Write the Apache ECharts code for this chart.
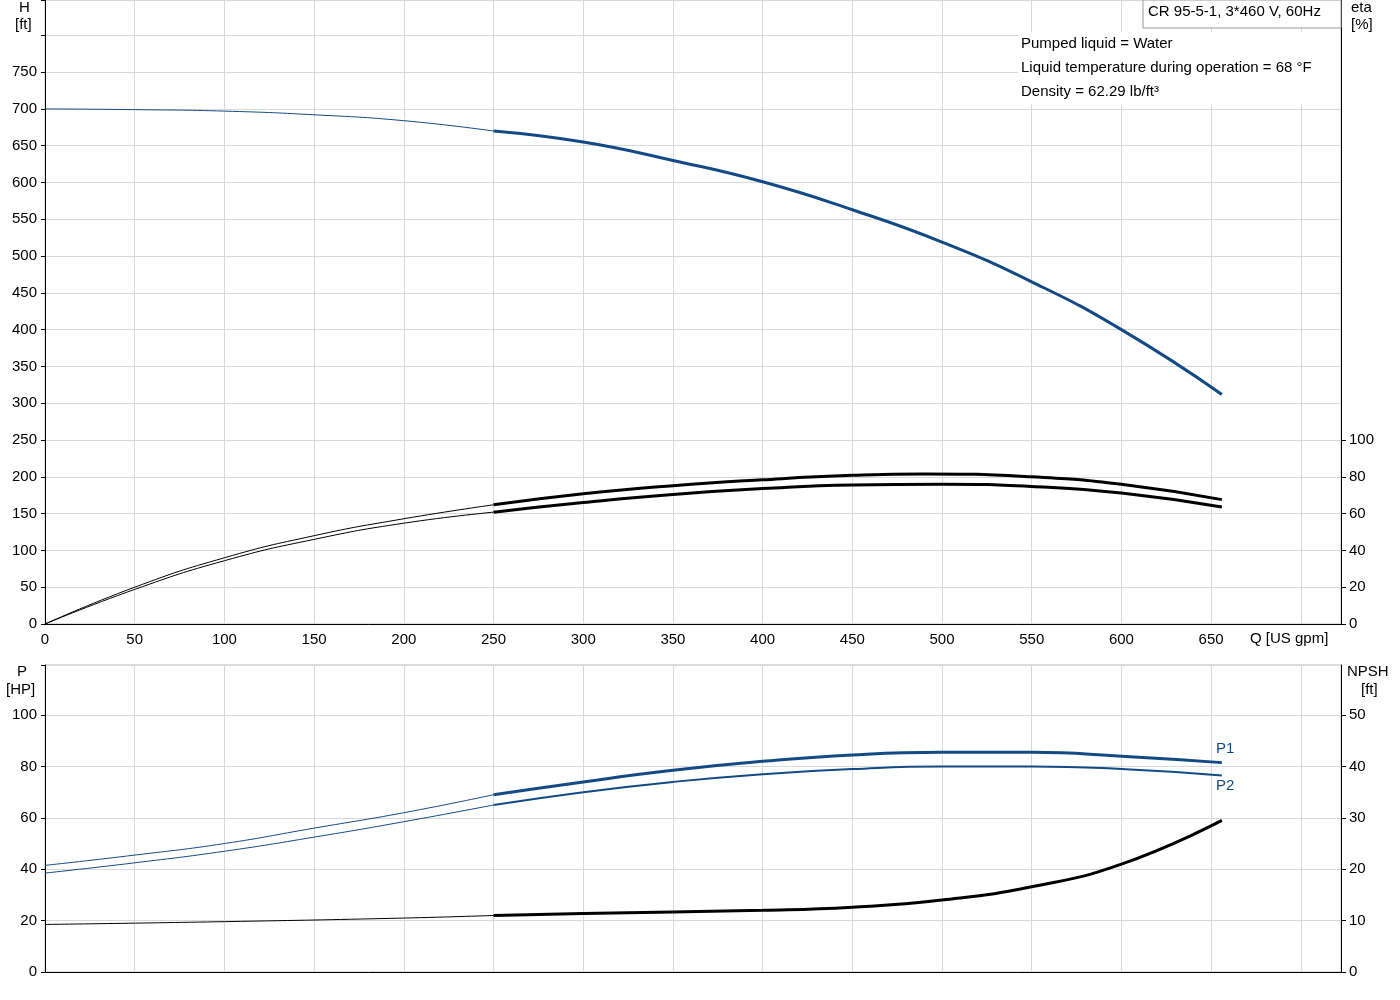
<!DOCTYPE html><html><head><meta charset="utf-8"><script src="https://cdn.jsdelivr.net/npm/echarts@6/dist/echarts.min.js"></script>
<style>body{margin:0}#c{width:1400px;height:1000px}</style></head><body><div id="c"></div><script>
const xTicks=[0,50,100,150,200,250,300,350,400,450,500,550,600,650];
const etaTicks=[0,20,40,60,80,100];
const npshTicks=[0,10,20,30,40,50];
const hThin=[[0,700],[50,699],[100,697],[150,692],[200,684],[250,670]];
const hThick=[[250,670],[300,655],[350,630],[400,601],[450,563],[500,519],[550,465],[600,400],[656,312]];
const eta1Thin=[[0,0],[50,50],[100,90],[150,120],[200,143],[250,162]];
const eta1Thick=[[250,162],[300,177],[350,188],[400,196],[450,202],[490,204],[550,200],[600,190],[656,169]];
const eta2Thin=[[0,0],[50,47],[100,86],[150,115],[200,137],[250,152]];
const eta2Thick=[[250,152],[300,165],[350,176],[400,184],[450,189],[500,190],[550,187],[600,178],[656,159]];
const p1Thin=[[0,41.5],[50,45.5],[100,50],[150,56],[200,62],[250,69]];
const p1Thick=[[250,69],[300,74],[350,78.5],[400,82],[450,84.5],[500,85.5],[550,85.5],[600,84],[656,81.5]];
const p2Thin=[[0,38.5],[50,42.5],[100,47],[150,52.5],[200,58.5],[250,65]];
const p2Thick=[[250,65],[300,70],[350,74],[400,77],[450,79],[500,80],[550,80],[600,79],[656,76.5]];
const npshThin=[[0,9.25],[100,9.8],[200,10.5],[250,11]];
const npshThick=[[250,11],[300,11.4],[400,12],[450,12.6],[500,14],[550,16.6],[600,21],[656,29.5]];
const blue='#134a85';
const ff='Arial, Liberation Sans';
const txt={color:'#000',fontSize:15,fontFamily:ff};
function ln(d,w,c,xi,yi,lbl){return {type:'line',data:d,smooth:true,symbol:'none',xAxisIndex:xi,yAxisIndex:yi,lineStyle:{width:w,color:c},
 endLabel:lbl?{show:true,formatter:lbl,color:blue,fontSize:15,fontFamily:ff,offset:lbl==='P1'?[-14,-14]:[-14,10]}:undefined};}
const xa=(gi,show)=>({type:'value',gridIndex:gi,min:0,max:722.4,interval:50,axisLine:{lineStyle:{color:'#000'}},axisTick:{show:false},
 axisLabel:{show:show,...txt,formatter:v=>v<=650?v:''},splitLine:{lineStyle:{color:'#d8d8d8'}}});
const opt={animation:false,
 grid:[{left:45,right:59,top:0,height:624,show:true,borderColor:'#bbb'},{left:45,right:59,top:665,height:307,show:true,borderColor:'#bbb'}],
 xAxis:[xa(0,true),xa(1,false)],
 yAxis:[
  {type:'value',gridIndex:0,min:0,max:848,interval:50,axisLine:{show:true,lineStyle:{color:'#000'}},axisTick:{show:true,length:4,lineStyle:{color:'#000'}},axisLabel:{...txt,margin:8,formatter:v=>v<=750?v:''},splitLine:{lineStyle:{color:'#d8d8d8'}}},
  {type:'value',gridIndex:0,position:'right',min:0,max:339.2,interval:20,axisLine:{show:true,lineStyle:{color:'#000'}},axisTick:{show:true,length:5,lineStyle:{color:'#000'},customValues:etaTicks},axisLabel:{...txt,margin:8,customValues:etaTicks},splitLine:{show:false}},
  {type:'value',gridIndex:1,min:0,max:119.5,interval:20,axisLine:{show:true,lineStyle:{color:'#000'}},axisTick:{show:true,length:4,lineStyle:{color:'#000'}},axisLabel:{...txt,margin:8,formatter:v=>v<=100?v:''},splitLine:{lineStyle:{color:'#d8d8d8'}}},
  {type:'value',gridIndex:1,position:'right',min:0,max:59.75,interval:10,axisLine:{show:true,lineStyle:{color:'#000'}},axisTick:{show:true,length:5,lineStyle:{color:'#000'},customValues:npshTicks},axisLabel:{...txt,margin:8,customValues:npshTicks},splitLine:{show:false}}
 ],
 series:[
  ln(hThin,1,blue,0,0),ln(hThick,3,blue,0,0),
  ln(eta1Thin,1,'#000',0,0),ln(eta1Thick,3,'#000',0,0),
  ln(eta2Thin,1,'#000',0,0),ln(eta2Thick,3,'#000',0,0),
  ln(p1Thin,1,blue,1,2),ln(p1Thick,3,blue,1,2,'P1'),
  ln(p2Thin,1,blue,1,2),ln(p2Thick,2,blue,1,2,'P2'),
  ln(npshThin,1,'#000',1,3),ln(npshThick,3,'#000',1,3)
 ],
 graphic:[
  {type:'text',left:19,top:0,style:{text:'H',font:'15px '+ff}},
  {type:'text',left:15,top:17,style:{text:'[ft]',font:'15px '+ff}},
  {type:'text',left:1351,top:0,style:{text:'eta',font:'15px '+ff}},
  {type:'text',left:1351,top:17,style:{text:'[%]',font:'15px '+ff}},
  {type:'text',left:1250,top:631,style:{text:'Q [US gpm]',font:'15px '+ff}},
  {type:'text',left:17,top:664,style:{text:'P',font:'15px '+ff}},
  {type:'text',left:6,top:682,style:{text:'[HP]',font:'15px '+ff}},
  {type:'text',left:1347,top:664,style:{text:'NPSH',font:'15px '+ff}},
  {type:'text',left:1361,top:682,style:{text:'[ft]',font:'15px '+ff}},
  {type:'rect',z:100,shape:{x:1143,y:0,width:198,height:28},style:{fill:'#fff',stroke:'#999'}},
  {type:'text',z:101,left:1148,top:4,style:{text:'CR 95-5-1, 3*460 V, 60Hz',font:'15px '+ff}},
  {type:'rect',z:100,shape:{x:1018,y:32,width:322,height:72},style:{fill:'#fff'}},
  {type:'text',z:101,left:1021,top:36,style:{text:'Pumped liquid = Water',font:'15px '+ff}},
  {type:'text',z:101,left:1021,top:60,style:{text:'Liquid temperature during operation = 68 °F',font:'15px '+ff}},
  {type:'text',z:101,left:1021,top:84,style:{text:'Density = 62.29 lb/ft³',font:'15px '+ff}}
 ]};
echarts.init(document.getElementById('c')).setOption(opt);
</script></body></html>
